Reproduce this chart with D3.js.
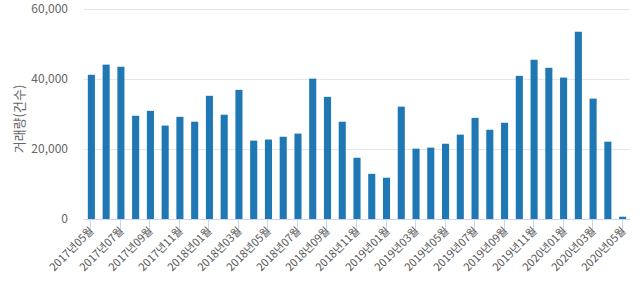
<!DOCTYPE html>
<html>
<head>
<meta charset="utf-8">
<script src="https://cdn.jsdelivr.net/npm/d3@7"></script>
<style>
  body { margin: 0; background: #fff; }
  text { font-family: "Noto Sans CJK KR", "Noto Sans", sans-serif; }
</style>
</head>
<body>
<div id="content"></div>
<script>
// ******* DATA *******
const months = [
    "2017년05월", "2017년06월", "2017년07월", "2017년08월", "2017년09월", "2017년10월", "2017년11월", "2017년12월",
    "2018년01월", "2018년02월", "2018년03월", "2018년04월", "2018년05월", "2018년06월", "2018년07월", "2018년08월",
    "2018년09월", "2018년10월", "2018년11월", "2018년12월",
    "2019년01월", "2019년02월", "2019년03월", "2019년04월", "2019년05월", "2019년06월", "2019년07월", "2019년08월",
    "2019년09월", "2019년10월", "2019년11월", "2019년12월",
    "2020년01월", "2020년02월", "2020년03월", "2020년04월", "2020년05월"
];
const volumes = [
    41200, 44100, 43500, 29500, 30900, 26700, 29200, 27800,
    35200, 29800, 36900, 22400, 22700, 23500, 24400, 40100,
    34900, 27800, 17500, 12900,
    11800, 32100, 20100, 20400, 21500, 24100, 28900, 25500,
    27500, 40900, 45500, 43200,
    40400, 53500, 34400, 22100, 650
];
const yTicks = [0, 20000, 40000, 60000];
const yLabel = "거래량(건수)";

// ******* LAYOUT *******
const width = 640, height = 294;
const margin = { left: 84, right: 10, top: 9, bottom: 75 };

const svg = d3.select("#content").append("svg")
    .attr("width", width)
    .attr("height", height);

const x = d3.scaleBand()
    .domain(months)
    .range([margin.left, width - margin.right])
    .paddingInner(0.52)
    .paddingOuter(0.26);

const y = d3.scaleLinear()
    .domain([0, 60000])
    .range([height - margin.bottom, margin.top]);

// gridlines
svg.append("g")
    .selectAll("line")
    .data(yTicks.filter(d => d > 0))
    .join("line")
    .attr("x1", margin.left)
    .attr("x2", width - margin.right)
    .attr("y1", d => Math.round(y(d)) + 0.5)
    .attr("y2", d => Math.round(y(d)) + 0.5)
    .attr("stroke", "#e6e6e6")
    .attr("stroke-width", 1);

// y tick labels
svg.append("g")
    .selectAll("text")
    .data(yTicks)
    .join("text")
    .attr("x", 68)
    .attr("y", d => y(d))
    .attr("dy", "0.35em")
    .attr("text-anchor", "end")
    .attr("font-size", 12)
    .attr("fill", "#666")
    .text(d => d3.format(",")(d));

// y axis title
svg.append("text")
    .attr("transform", `translate(24,119) rotate(-90)`)
    .attr("text-anchor", "middle")
    .attr("font-size", 13)
    .attr("fill", "#666")
    .text(yLabel);

// bars
svg.append("g")
    .selectAll("rect")
    .data(volumes)
    .join("rect")
    .attr("x", (d, i) => x(months[i]))
    .attr("width", x.bandwidth())
    .attr("y", d => y(d))
    .attr("height", d => y(0) - y(d))
    .attr("fill", "#1f78b4");

// x axis line
const baseY = Math.round(y(0)) + 0.5;
svg.append("line")
    .attr("x1", margin.left)
    .attr("x2", width - margin.right)
    .attr("y1", baseY)
    .attr("y2", baseY)
    .attr("stroke", "#ccd6eb")
    .attr("stroke-width", 1);

// ticks + labels every 2 months
const shown = months.filter((m, i) => i % 2 === 0);
const xc = m => Math.round(x(m) + x.bandwidth() / 2) - 0.5;

svg.append("g")
    .selectAll("line")
    .data(shown)
    .join("line")
    .attr("x1", xc)
    .attr("x2", xc)
    .attr("y1", baseY)
    .attr("y2", baseY + 10)
    .attr("stroke", "#ccd6eb");

svg.append("g")
    .selectAll("text")
    .data(shown)
    .join("text")
    .attr("transform", m => `translate(${xc(m) + 4},${baseY + 12}) rotate(-45)`)
    .attr("text-anchor", "end")
    .attr("font-size", 11)
    .attr("fill", "#555")
    .text(m => m);
</script>
</body>
</html>
